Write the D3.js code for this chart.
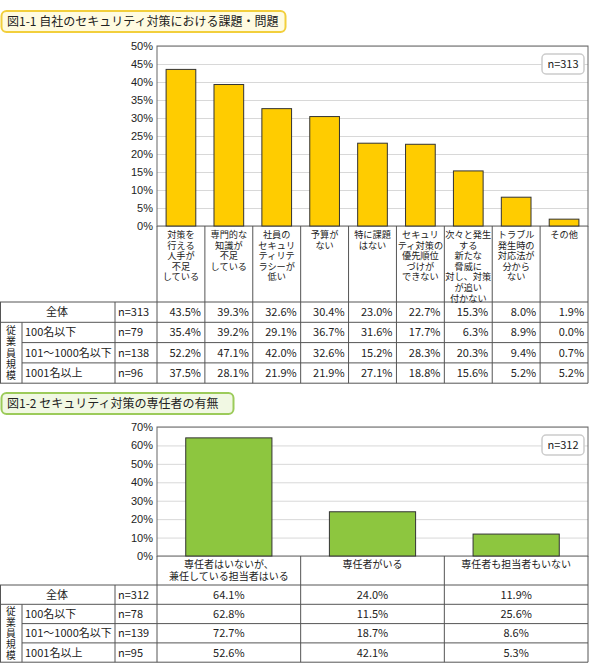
<!DOCTYPE html>
<html><head><meta charset="utf-8">
<script src="https://cdn.jsdelivr.net/npm/d3@7"></script>
<style>
body{margin:0;background:#fff;font-family:"Noto Sans CJK JP",sans-serif;}
text{font-size:11px;fill:#222;}
</style></head>
<body><svg width="590" height="671"></svg>
<script>
// chart 1 data
const cats1 = ["対策を|行える|人手が|不足|している","専門的な|知識が|不足|している","社員の|セキュリ|ティリテ|ラシーが|低い","予算が|ない","特に課題|はない","セキュリ|ティ対策の|優先順位|づけが|できない","次々と発生|する|新たな|脅威に|対し、対策|が追い|付かない","トラブル|発生時の|対応法が|分から|ない","その他"];
const total1 = [43.5,39.3,32.6,30.4,23.0,22.7,15.3,8.0,1.9];
const rows1 = [
  {label:"全体", n:"n=313", vals:total1},
  {label:"100名以下", n:"n=79", vals:[35.4,39.2,29.1,36.7,31.6,17.7,6.3,8.9,0.0]},
  {label:"101～1000名以下", n:"n=138", vals:[52.2,47.1,42.0,32.6,15.2,28.3,20.3,9.4,0.7]},
  {label:"1001名以上", n:"n=96", vals:[37.5,28.1,21.9,21.9,27.1,18.8,15.6,5.2,5.2]}
];
const ticks1 = [0,5,10,15,20,25,30,35,40,45,50];

// chart 2 data
const cats2 = ["専任者はいないが、|兼任している担当者はいる","専任者がいる","専任者も担当者もいない"];
const total2 = [64.1,24.0,11.9];
const rows2 = [
  {label:"全体", n:"n=312", vals:total2},
  {label:"100名以下", n:"n=78", vals:[62.8,11.5,25.6]},
  {label:"101～1000名以下", n:"n=139", vals:[72.7,18.7,8.6]},
  {label:"1001名以上", n:"n=95", vals:[52.6,42.1,5.3]}
];
const ticks2 = [0,10,20,30,40,50,60,70];

const svg = d3.select("svg");
const X0 = 157, X1 = 588;

function title(y, w, txt, stroke, fill) {
  svg.append("rect").attr("x",1.5).attr("y",y).attr("width",w).attr("height",21)
    .attr("rx",5).attr("fill",fill).attr("stroke",stroke).attr("stroke-width",2);
  svg.append("text").attr("x",7).attr("y",y+15).style("font-size","12px").text(txt);
}

function chart(o) {
  const y = d3.scaleLinear().domain([0,o.max]).range([o.bottom,o.top]);
  const x = d3.scaleBand().domain(o.cats).range([X0,X1]).paddingInner(o.pad).paddingOuter(o.pad/2);
  const g = svg.append("g");
  // grid
  g.append("g").attr("transform",`translate(${X0},0)`)
    .call(d3.axisLeft(y).tickValues(o.ticks).tickSize(-(X1-X0)).tickFormat(d=>d+"%"))
    .call(a=>a.select(".domain").remove())
    .call(a=>a.selectAll("line").attr("stroke","#d8d8d8"))
    .call(a=>a.selectAll("text").attr("fill","#222").style("font-size","11px").attr("x",-4));
  g.append("rect").attr("x",X0).attr("y",o.top).attr("width",X1-X0).attr("height",o.bottom-o.top)
    .attr("fill","none").attr("stroke","#666");
  g.selectAll(".bar").data(o.cats).enter().append("rect")
    .attr("x",c=>x(c)).attr("width",x.bandwidth())
    .attr("y",(c,i)=>y(o.total[i])).attr("height",(c,i)=>o.bottom-y(o.total[i]))
    .attr("fill",o.color).attr("stroke","#333").attr("stroke-width",1);
  // n box
  g.append("rect").attr("x",X1-46).attr("y",o.top+8).attr("width",42).attr("height",20).attr("rx",4)
    .attr("fill","#fff").attr("stroke","#ccc").attr("stroke-width",1.5);
  g.append("text").attr("x",X1-25).attr("y",o.top+22).attr("text-anchor","middle").text(o.nlabel);
  // category labels & table
  const step = (X1-X0)/o.cats.length;
  const cx = d3.scaleBand().domain(o.cats).range([X0,X1]);
  const lines = g.append("g").attr("stroke","#555").attr("fill","none");
  o.cats.forEach((c,i)=>{
    lines.append("line").attr("x1",cx(c)).attr("x2",cx(c)).attr("y1",o.bottom).attr("y2",o.tableTop+4*o.rowH);
    c.split("|").forEach((s,j)=>{
      g.append("text").attr("x",cx(c)+step/2).attr("y",o.bottom+12+j*o.lineH)
        .attr("text-anchor","middle").style("font-size",o.catFont).text(s);
    });
  });
  lines.append("line").attr("x1",X1).attr("x2",X1).attr("y1",o.bottom).attr("y2",o.tableTop+4*o.rowH);
  const rowY = d3.scaleLinear().domain([0,4]).range([o.tableTop,o.tableTop+4*o.rowH]);
  d3.range(5).forEach(r=>{
    lines.append("line").attr("x1",r===0||r===4||r===1?0:22).attr("x2",X1).attr("y1",rowY(r)).attr("y2",rowY(r));
  });
  lines.append("line").attr("x1",0.5).attr("x2",0.5).attr("y1",rowY(0)).attr("y2",rowY(4));
  lines.append("line").attr("x1",22).attr("x2",22).attr("y1",rowY(1)).attr("y2",rowY(4));
  lines.append("line").attr("x1",115).attr("x2",115).attr("y1",rowY(0)).attr("y2",rowY(4));
  const kh = (rowY(4)-rowY(1)-4)/5;
  "従業員規模".split("").forEach((ch,k)=>{
    g.append("text").attr("x",11).attr("y",rowY(1)+2+kh*(k+0.85)).attr("text-anchor","middle")
      .style("font-size",Math.min(10,kh-1)+"px").text(ch);
  });
  o.rows.forEach((row,r)=>{
    const ty = rowY(r)+o.rowH/2+4;
    if (r===0) g.append("text").attr("x",57).attr("y",ty).attr("text-anchor","middle").text(row.label);
    else g.append("text").attr("x",25).attr("y",ty).text(row.label);
    g.append("text").attr("x",118).attr("y",ty).text(row.n);
    row.vals.forEach((v,i)=>{
      g.append("text").attr("x",cx(o.cats[i])+step/2+o.valOff).attr("y",ty).attr("text-anchor",o.valAnchor)
        .text(v.toFixed(1)+"%");
    });
  });
}

title(11, 284, "図1-1 自社のセキュリティ対策における課題・問題", "#f2cf3c", "#fffbe0");
chart({cats:cats1,total:total1,rows:rows1,ticks:ticks1,max:50,top:46,bottom:226,pad:0.38,
  color:"#ffcc00",nlabel:"n=313",tableTop:302,rowH:20.3,lineH:10.6,catFont:"9.2px",valOff:20,valAnchor:"end"});

title(393, 232, "図1-2 セキュリティ対策の専任者の有無", "#9ccb5a", "#f1f8e3");
chart({cats:cats2,total:total2,rows:rows2,ticks:ticks2,max:70,top:427,bottom:556,pad:0.4,
  color:"#8dc63f",nlabel:"n=312",tableTop:585,rowH:19.3,lineH:11.5,catFont:"10px",valOff:0,valAnchor:"middle"});
</script></body></html>
